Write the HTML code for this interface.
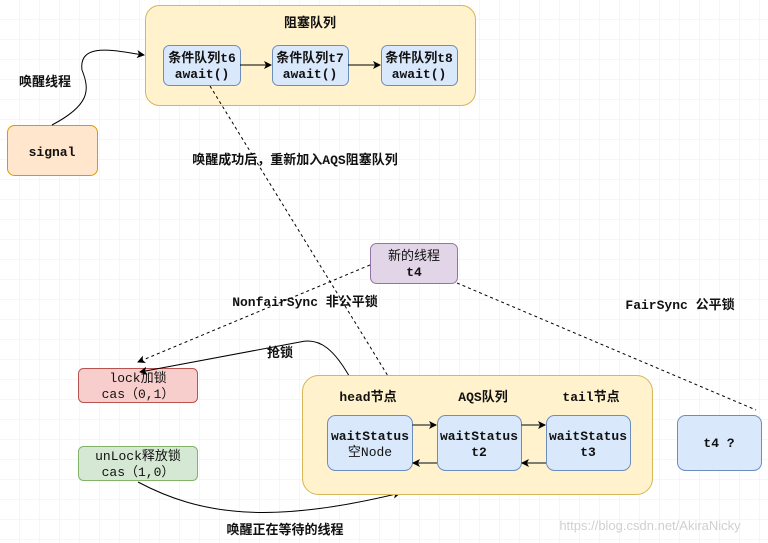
<!DOCTYPE html>
<html><head><meta charset="utf-8"><style>
html,body{margin:0;padding:0;background:#fff}
svg{display:block}
text{font-family:"Liberation Mono","Noto Sans CJK SC",monospace;font-size:13px;font-weight:bold;fill:#111;text-anchor:middle}
</style></head><body>
<svg width="768" height="543" viewBox="0 0 768 543" xmlns="http://www.w3.org/2000/svg">
<defs>
<pattern id="g" width="20" height="20" patternUnits="userSpaceOnUse"><path d="M20 0V20H0" fill="none" stroke="#ececec" stroke-width="1"/></pattern>
<marker id="a" markerWidth="8" markerHeight="8" refX="7" refY="4" orient="auto" markerUnits="userSpaceOnUse"><path d="M0,0 L8,4 L0,8 L2,4z" fill="#000"/></marker>
</defs>
<rect width="768" height="543" fill="url(#g)"/>
<rect x="145.5" y="5.5" width="330" height="100" rx="14" fill="#fff2cc" stroke="#d6b656"/>
<text x="310" y="27">阻塞队列</text>
<rect x="163.5" y="45.5" width="77" height="40" rx="6" fill="#dae8fc" stroke="#6c8ebf"/>
<text x="202" y="62">条件队列t6</text><text x="202" y="78">await()</text>
<rect x="272.5" y="45.5" width="76" height="40" rx="6" fill="#dae8fc" stroke="#6c8ebf"/>
<text x="310" y="62">条件队列t7</text><text x="310" y="78">await()</text>
<rect x="381.5" y="45.5" width="76" height="40" rx="6" fill="#dae8fc" stroke="#6c8ebf"/>
<text x="419" y="62">条件队列t8</text><text x="419" y="78">await()</text>
<path d="M240 65H271" stroke="#000" marker-end="url(#a)"/>
<path d="M348 65H380" stroke="#000" marker-end="url(#a)"/>
<rect x="7.5" y="125.5" width="90" height="50" rx="7" fill="#ffe6cc" stroke="#d79b00"/>
<text x="52" y="156">signal</text>
<path d="M52 125 C90 105,90 90,82 70 C78 40,120 52,144 55" fill="none" stroke="#000" marker-end="url(#a)"/>
<text x="45" y="86">唤醒线程</text>
<text x="295" y="164">唤醒成功后，重新加入AQS阻塞队列</text>
<path d="M210 86L388 376" stroke="#000" stroke-dasharray="3,3" fill="none"/>
<rect x="370.5" y="243.5" width="87" height="40" rx="6" fill="#e1d5e7" stroke="#9673a6"/>
<text x="414" y="260" style="font-weight:normal">新的线程</text><text x="414" y="276">t4</text>
<path d="M370 265L138 362" stroke="#000" stroke-dasharray="3,3" fill="none" marker-end="url(#a)"/>
<path d="M457 283L756 410" stroke="#000" stroke-dasharray="3,3" fill="none"/>
<text x="305" y="306">NonfairSync 非公平锁</text>
<text x="680" y="309">FairSync 公平锁</text>
<rect x="78.5" y="368.5" width="119" height="34" rx="5" fill="#f8cecc" stroke="#b85450"/>
<text x="138" y="382" style="font-weight:normal">lock加锁</text><text x="138" y="398" style="font-weight:normal">cas（0,1）</text>
<rect x="78.5" y="446.5" width="119" height="34" rx="5" fill="#d5e8d4" stroke="#82b366"/>
<text x="138" y="460" style="font-weight:normal">unLock释放锁</text><text x="138" y="476" style="font-weight:normal">cas（1,0）</text>
<path d="M352 381 C335 350,320 337,300 342 L140 372" fill="none" stroke="#000" marker-end="url(#a)"/>
<text x="280" y="357">抢锁</text>
<path d="M138 482 C200 515,270 525,400 493" fill="none" stroke="#000" marker-end="url(#a)"/>
<text x="285" y="534">唤醒正在等待的线程</text>
<rect x="302.5" y="375.5" width="350" height="119" rx="16" fill="#fff2cc" stroke="#d6b656"/>
<text x="368" y="401">head节点</text><text x="483" y="401">AQS队列</text><text x="591" y="401">tail节点</text>
<rect x="327.5" y="415.5" width="85" height="55" rx="8" fill="#dae8fc" stroke="#6c8ebf"/>
<text x="370" y="440">waitStatus</text><text x="370" y="456" style="font-weight:normal">空Node</text>
<rect x="437.5" y="415.5" width="84" height="55" rx="8" fill="#dae8fc" stroke="#6c8ebf"/>
<text x="479" y="440">waitStatus</text><text x="479" y="456">t2</text>
<rect x="546.5" y="415.5" width="84" height="55" rx="8" fill="#dae8fc" stroke="#6c8ebf"/>
<text x="588" y="440">waitStatus</text><text x="588" y="456">t3</text>
<path d="M412 425H436" stroke="#555" stroke-width="1.5" marker-end="url(#a)"/>
<path d="M437 463H413" stroke="#555" stroke-width="1.5" marker-end="url(#a)"/>
<path d="M521 425H545" stroke="#555" stroke-width="1.5" marker-end="url(#a)"/>
<path d="M546 463H522" stroke="#555" stroke-width="1.5" marker-end="url(#a)"/>
<rect x="677.5" y="415.5" width="84" height="55" rx="8" fill="#dae8fc" stroke="#6c8ebf"/>
<text x="719" y="447">t4 ?</text>
<text x="650" y="530" style="font-family:'Liberation Sans',sans-serif;font-weight:normal;fill:#d0d0d0;font-size:13px">https://blog.csdn.net/AkiraNicky</text>
</svg>
</body></html>
